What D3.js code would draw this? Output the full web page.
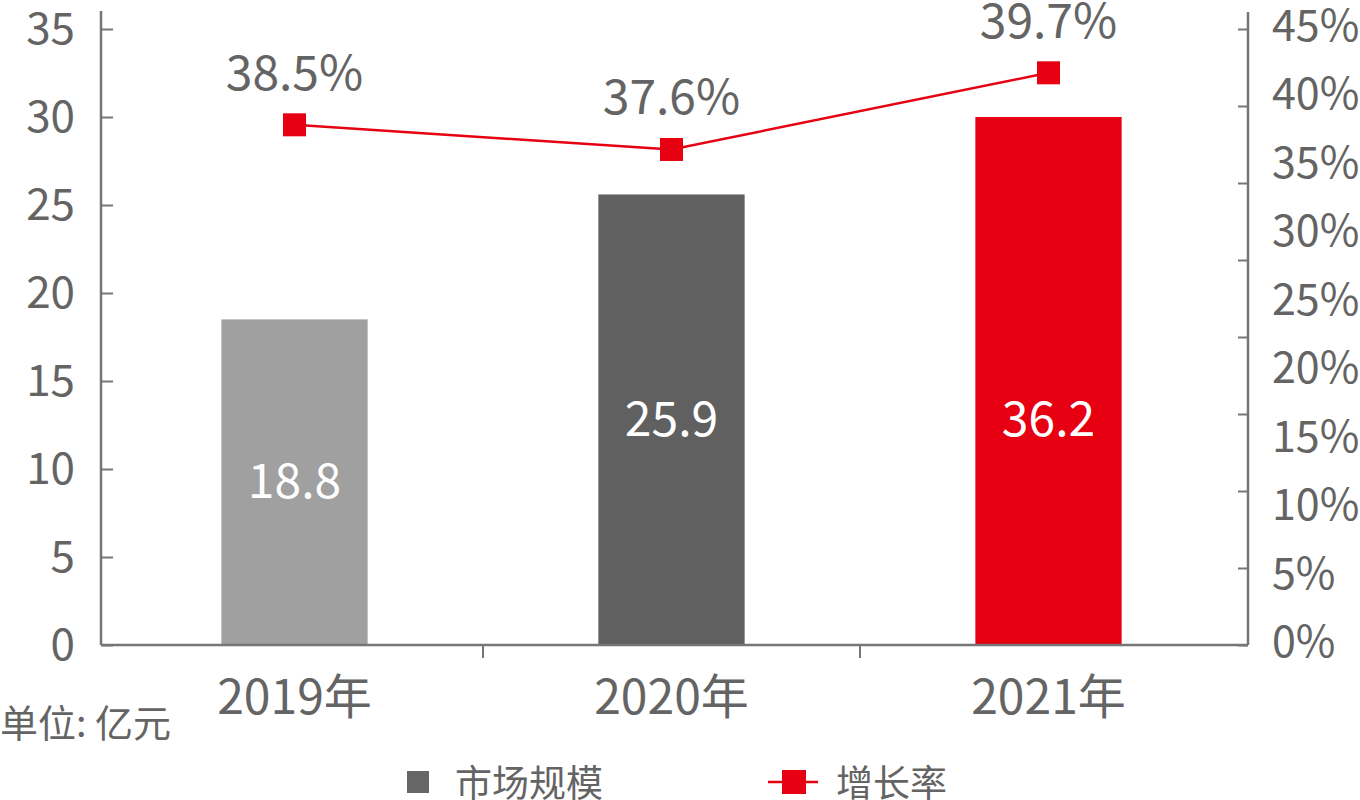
<!DOCTYPE html>
<html>
<head>
<meta charset="utf-8">
<script src="https://cdn.jsdelivr.net/npm/d3@7"></script>
<style>
  html, body { margin: 0; padding: 0; background: #fff; }
  svg { display: block; font-family: "Noto Sans CJK SC", "Noto Sans", sans-serif; }
</style>
</head>
<body>
<svg id="chart" width="1360" height="800"></svg>
<script>
// ---- data ----
const categories = ["2019年", "2020年", "2021年"];
const marketSize = [18.5, 25.6, 30.0];          // bar heights as drawn (亿元)
const marketLabels = ["18.8", "25.9", "36.2"];  // printed bar labels
const marketLabelAt = [9.25, 12.8, 12.8];       // value at which each bar label sits
const growthRate = [0.380, 0.362, 0.418];       // marker heights as drawn
const growthLabels = ["38.5%", "37.6%", "39.7%"];
const leftTicks = [0, 5, 10, 15, 20, 25, 30, 35];
const rightTicks = [0, 0.05, 0.10, 0.15, 0.20, 0.25, 0.30, 0.35, 0.40, 0.45];
const rightTickMarkCount = 8;
const seriesNames = ["市场规模", "增长率"];
const unitLabel = "单位: 亿元";

// ---- styles ----
const barColors = ["#a0a0a0", "#606060", "#e60012"];
const lineColor = "#e60012";
const axisColor = "#767676";
const textColor = "#646464";
const digitShift = -5;

const svg = d3.select("#chart");

const plot = { left: 101, right: 1248, top: 11, bottom: 645 };
const x = d3.scaleBand().domain(categories).range([106, 1237]).padding(0);
const barW = x.bandwidth() * 0.388;
const yL = d3.scaleLinear().domain([0, 35]).range([645, 29]);
const yR = d3.scaleLinear().domain([0, 0.45]).range([645, 29]);

// bars
svg.append("g").selectAll("rect")
  .data(categories)
  .join("rect")
  .attr("x", d => x(d) + x.bandwidth() / 2 - barW / 2)
  .attr("width", barW)
  .attr("y", (d, i) => yL(marketSize[i]))
  .attr("height", (d, i) => yL(0) - yL(marketSize[i]))
  .attr("fill", (d, i) => barColors[i]);

// bar labels
svg.append("g").selectAll("text")
  .data(categories)
  .join("text")
  .attr("x", d => x(d) + x.bandwidth() / 2)
  .attr("y", (d, i) => yL(marketLabelAt[i]) + digitShift)
  .attr("text-anchor", "middle")
  .attr("dominant-baseline", "central")
  .attr("font-size", 48)
  .attr("fill", "#fff")
  .text((d, i) => marketLabels[i]);

// left axis
const gL = svg.append("g").attr("transform", `translate(${plot.left},0)`)
  .call(d3.axisRight(yL).tickValues(leftTicks).tickSize(12).tickFormat(""));
gL.select(".domain").remove();
gL.selectAll("line").attr("stroke", axisColor).attr("stroke-width", 2);
svg.append("line").attr("x1", plot.left).attr("x2", plot.left)
  .attr("y1", plot.top).attr("y2", plot.bottom)
  .attr("stroke", axisColor).attr("stroke-width", 2.5);
svg.append("g").selectAll("text").data(leftTicks).join("text")
  .attr("x", 75).attr("y", d => yL(d) + digitShift + 1)
  .attr("text-anchor", "end").attr("dominant-baseline", "central")
  .attr("font-size", 44).attr("fill", textColor)
  .text(d => d);

// right axis
const markVals = d3.range(rightTickMarkCount + 1).map(i => i * 0.45 / rightTickMarkCount);
const gR = svg.append("g").attr("transform", `translate(${plot.right},0)`)
  .call(d3.axisLeft(yR).tickValues(markVals).tickSize(10).tickFormat(""));
gR.select(".domain").remove();
gR.selectAll("line").attr("stroke", axisColor).attr("stroke-width", 2);
svg.append("line").attr("x1", plot.right).attr("x2", plot.right)
  .attr("y1", plot.top + 1).attr("y2", plot.bottom)
  .attr("stroke", axisColor).attr("stroke-width", 2.5);
svg.append("g").selectAll("text").data(rightTicks).join("text")
  .attr("x", 1272).attr("y", d => yR(d) - 2 + digitShift)
  .attr("text-anchor", "start").attr("dominant-baseline", "central")
  .attr("font-size", 43).attr("fill", textColor)
  .text(d => d3.format(".0%")(d));

// x axis
svg.append("line").attr("x1", plot.left).attr("x2", plot.right)
  .attr("y1", plot.bottom).attr("y2", plot.bottom)
  .attr("stroke", axisColor).attr("stroke-width", 2.5);
svg.append("g").selectAll("line").data(categories.slice(1)).join("line")
  .attr("x1", d => x(d)).attr("x2", d => x(d))
  .attr("y1", plot.bottom).attr("y2", plot.bottom + 13)
  .attr("stroke", axisColor).attr("stroke-width", 2);
svg.append("g").selectAll("text").data(categories).join("text")
  .attr("x", d => x(d) + x.bandwidth() / 2)
  .attr("y", 693)
  .attr("text-anchor", "middle").attr("dominant-baseline", "central")
  .attr("font-size", 48).attr("fill", textColor)
  .text(d => d);

// growth line
const cx = (d, i) => x(categories[i]) + x.bandwidth() / 2;
svg.append("path")
  .datum(growthRate)
  .attr("d", d3.line().x((d, i) => cx(d, i)).y(d => yR(d)))
  .attr("fill", "none").attr("stroke", lineColor).attr("stroke-width", 2.5);
const ms = 23;
svg.append("g").selectAll("rect").data(growthRate).join("rect")
  .attr("x", (d, i) => cx(d, i) - ms / 2).attr("y", d => yR(d) - ms / 2)
  .attr("width", ms).attr("height", ms).attr("fill", lineColor);
svg.append("g").selectAll("text").data(growthRate).join("text")
  .attr("x", (d, i) => cx(d, i)).attr("y", d => yR(d) - 52 + digitShift + 1)
  .attr("text-anchor", "middle").attr("dominant-baseline", "central")
  .attr("font-size", 48).attr("fill", textColor)
  .text((d, i) => growthLabels[i]);

// unit label
svg.append("text").attr("x", 0).attr("y", 720)
  .attr("dominant-baseline", "central")
  .attr("font-size", 38).attr("fill", textColor)
  .text(unitLabel);

// legend
const lg = svg.append("g");
lg.append("rect").attr("x", 407).attr("y", 771).attr("width", 22).attr("height", 22).attr("fill", "#666666");
lg.append("text").attr("x", 455).attr("y", 781).attr("dominant-baseline", "central")
  .attr("font-size", 37).attr("fill", textColor).text(seriesNames[0]);
lg.append("line").attr("x1", 768).attr("x2", 818).attr("y1", 782).attr("y2", 782)
  .attr("stroke", lineColor).attr("stroke-width", 2.5);
lg.append("rect").attr("x", 782).attr("y", 770).attr("width", 24).attr("height", 24).attr("fill", lineColor);
lg.append("text").attr("x", 836).attr("y", 781).attr("dominant-baseline", "central")
  .attr("font-size", 37).attr("fill", textColor).text(seriesNames[1]);
</script>
</body>
</html>
